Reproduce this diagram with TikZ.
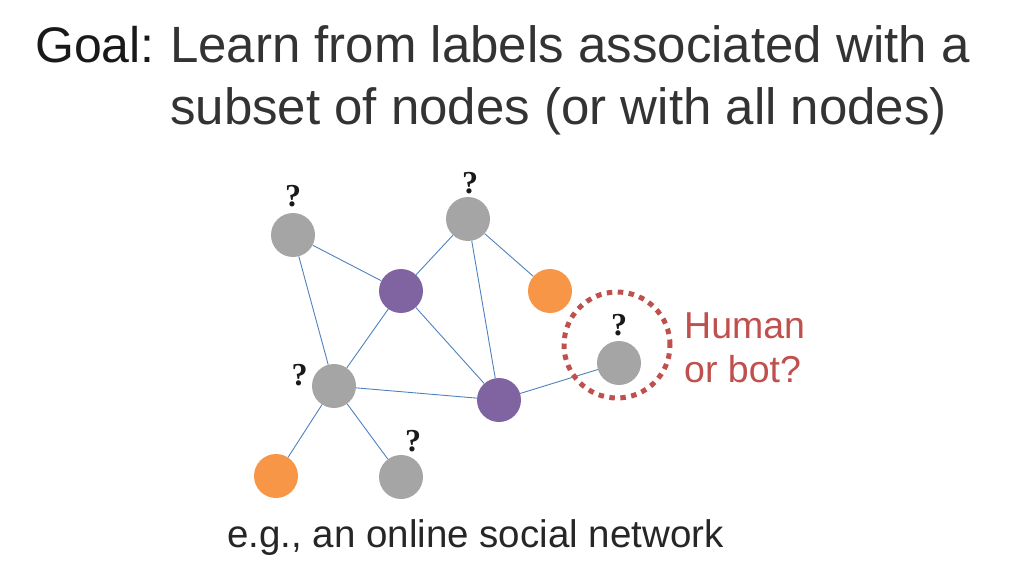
\documentclass[tikz,border=0pt]{standalone}
\usepackage{fontspec}
\setmainfont{Liberation Sans}
\newfontfamily\qfont{Liberation Serif}
\usetikzlibrary{positioning}

\definecolor{vgray}{HTML}{A5A5A5}
\definecolor{vpurple}{HTML}{8064A2}
\definecolor{vorange}{HTML}{F79646}
\definecolor{eblue}{HTML}{4F81BD}
\definecolor{bred}{HTML}{C0504D}

\begin{document}
\begin{tikzpicture}[x=1pt, y=-1pt,
  vert/.style={circle, inner sep=0pt, minimum size=44pt},
  edge/.style={draw=eblue, line width=0.9pt},
  qmark/.style={inner sep=0pt, text=black!90, font=\qfont\bfseries\fontsize{32}{32}\selectfont}]
\useasboundingbox (0,0) rectangle (1023,575);

\fontsize{50}{50}\selectfont
\node [anchor=base west, inner sep=0pt, text=black!90] (goal) at (35,63) {Goal:};
\fontsize{51}{51}\selectfont
\node [anchor=base west, inner sep=0pt, text=black!80] (goal1) at (170,63) {Learn from labels associated with a};
\node [anchor=base west, inner sep=0pt, text=black!80] (goal2) at (170,125) {subset of nodes (or with all nodes)};

% vertices
\node [vert, fill=vgray] (g1) at (293,235) {};
\node [vert, fill=vgray] (g2) at (468,219) {};
\node [vert, fill=vpurple] (pu1) at (401,291) {};
\node [vert, fill=vorange] (or1) at (550,291) {};
\node [vert, fill=vgray] (g3) at (334,386) {};
\node [vert, fill=vpurple] (pu2) at (499,400) {};
\node [vert, fill=vorange] (or2) at (276,476) {};
\node [vert, fill=vgray] (g4) at (401,477) {};
\node [vert, fill=vgray] (g5) at (619,363) {};

% edges
\draw [edge] (g1) -- (pu1);
\draw [edge] (g1) -- (g3);
\draw [edge] (pu1) -- (g2);
\draw [edge] (pu1) -- (g3);
\draw [edge] (pu1) -- (pu2);
\draw [edge] (g2) -- (or1);
\draw [edge] (g2) -- (pu2);
\draw [edge] (g3) -- (pu2);
\draw [edge] (g3) -- (or2);
\draw [edge] (g3) -- (g4);
\draw [edge] (pu2) -- (g5);

% unknown labels
\node [qmark, anchor=south] (q1) at ([yshift=6pt]g1.north) {?};
\node [qmark, anchor=south] (q2) at ([xshift=2pt, yshift=3pt]g2.north) {?};
\node [qmark, anchor=south east] (q3) at ([xshift=-4pt]g3.west) {?};
\node [qmark, anchor=south] (q4) at ([xshift=12pt, yshift=3pt]g4.north) {?};
\node [qmark, anchor=south] (q5) at ([yshift=5pt]g5.north) {?};

% the node in question
\node [circle, draw=bred, line width=5pt, dash pattern=on 5.5pt off 5.5pt, minimum size=106pt] (ring) at (617,345) {};
\fontsize{37.5}{37.5}\selectfont
\node [anchor=base west, inner sep=0pt, text=bred] (hob1) at (684,338) {Human};
\node [anchor=base west, inner sep=0pt, text=bred] (hob2) at ([yshift=-44pt]hob1.base west) {or bot?};

\fontsize{38.5}{38.5}\selectfont
\node [anchor=base west, inner sep=0pt, text=black!85] (eg) at (227,547) {e.g., an online social network};

\end{tikzpicture}
\end{document}
